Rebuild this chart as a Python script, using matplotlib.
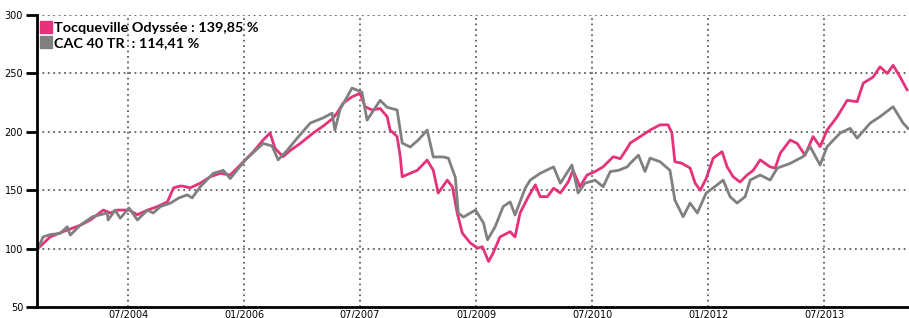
import numpy as np
import pandas as pd
import matplotlib
matplotlib.use('Agg')
import matplotlib.pyplot as plt
import matplotlib.dates as mdates
from matplotlib.lines import Line2D

# Tocqueville Odyssee (base 100)
dates_ody = ['2003-05-01', '2003-06-28', '2003-08-28', '2003-11-17', '2004-01-04', '2004-03-05',
             '2004-04-07', '2004-05-10', '2004-07-05', '2004-08-13', '2004-09-30', '2004-11-16',
             '2005-01-02', '2005-01-31', '2005-03-03', '2005-03-17', '2005-04-19', '2005-06-06',
             '2005-07-23', '2005-09-09', '2005-10-26', '2006-01-05', '2006-02-12', '2006-03-30',
             '2006-05-02', '2006-05-25', '2006-07-02', '2006-08-05', '2006-09-21', '2006-11-22',
             '2007-01-08', '2007-02-19', '2007-03-14', '2007-04-12', '2007-05-24', '2007-07-01',
             '2007-07-25', '2007-08-27', '2007-10-04', '2007-11-06', '2007-11-20', '2007-12-23',
             '2008-01-07', '2008-01-16', '2008-02-23', '2008-03-27', '2008-05-13', '2008-06-11',
             '2008-07-04', '2008-08-16', '2008-09-09', '2008-10-02', '2008-10-26', '2008-12-03',
             '2009-01-05', '2009-01-29', '2009-02-27', '2009-03-20', '2009-04-22', '2009-06-09',
             '2009-07-02', '2009-07-26', '2009-09-03', '2009-10-06', '2009-10-29', '2009-12-02',
             '2009-12-31', '2010-02-01', '2010-03-10', '2010-04-02', '2010-05-05', '2010-06-07',
             '2010-07-15', '2010-08-22', '2010-10-09', '2010-11-11', '2010-12-14', '2010-12-28',
             '2011-02-14', '2011-04-01', '2011-05-18', '2011-06-25', '2011-07-13', '2011-07-27',
             '2011-08-30', '2011-10-07', '2011-10-31', '2011-11-24', '2011-12-22', '2012-01-24',
             '2012-03-06', '2012-03-30', '2012-04-27', '2012-05-30', '2012-07-02', '2012-07-31',
             '2012-09-02', '2012-10-19', '2012-11-12', '2012-12-06', '2013-01-22', '2013-02-24',
             '2013-04-02', '2013-05-10', '2013-06-12', '2013-07-15', '2013-09-01', '2013-10-18',
             '2013-12-04', '2014-01-02', '2014-02-18', '2014-03-22', '2014-04-25', '2014-05-23',
             '2014-06-25', '2014-07-28']
vals_ody = [100, 110, 114.5, 120, 124.5, 133,
            130.5, 133, 133, 129, 133, 136,
            140, 152, 153.6, 153.5, 152, 156,
            161.5, 164.5, 163, 176, 183, 193,
            199, 186, 178.7, 184, 190, 199,
            205, 211, 216, 224.6, 230, 233,
            221.5, 218.7, 220, 213, 201.5, 196,
            178.7, 161.6, 164.5, 167, 175.8, 167,
            147.6, 158.6, 153, 130.5, 113.3, 104.8,
            100.5, 101.6, 89, 96, 110, 114.5,
            110, 130.5, 144.5, 154.6, 144.5, 144.5,
            151.7, 147.6, 157, 167, 153, 163,
            166, 170, 178.7, 177, 186, 190.4,
            196, 201.5, 206, 206, 199, 174.4,
            173, 169, 156, 150, 160, 177.5,
            183, 170, 161.6, 157, 163, 167,
            176, 170, 169, 181.8, 193, 190,
            180, 196, 187.3, 201.5, 213, 227,
            225.8, 241.7, 247, 255.7, 250, 257,
            247, 236]

# CAC 40 TR (base 100)
dates_cac = ['2003-05-01', '2003-05-26', '2003-06-28', '2003-08-14', '2003-09-17', '2003-10-01',
             '2003-11-17', '2004-01-14', '2004-03-24', '2004-03-28', '2004-04-30', '2004-05-24',
             '2004-07-05', '2004-08-13', '2004-09-30', '2004-10-27', '2004-11-30', '2005-01-17',
             '2005-02-24', '2005-04-05', '2005-04-29', '2005-06-06', '2005-08-07', '2005-09-23',
             '2005-10-26', '2006-01-05', '2006-03-30', '2006-05-11', '2006-06-09', '2006-07-21',
             '2006-09-07', '2006-11-08', '2007-01-08', '2007-02-19', '2007-03-04', '2007-03-28',
             '2007-05-24', '2007-07-10', '2007-08-03', '2007-10-04', '2007-11-06', '2007-12-23',
             '2008-01-16', '2008-02-23', '2008-04-01', '2008-05-13', '2008-06-11', '2008-07-27',
             '2008-08-21', '2008-09-23', '2008-10-07', '2008-10-31', '2008-12-03', '2008-12-27',
             '2009-02-03', '2009-02-22', '2009-03-30', '2009-05-07', '2009-06-09', '2009-07-02',
             '2009-08-19', '2009-09-12', '2009-10-29', '2009-12-31', '2010-02-01', '2010-03-28',
             '2010-04-26', '2010-05-28', '2010-07-15', '2010-08-22', '2010-09-25', '2010-11-02',
             '2010-12-14', '2010-12-28', '2011-02-05', '2011-03-08', '2011-04-01', '2011-05-18',
             '2011-07-04', '2011-07-27', '2011-09-04', '2011-10-07', '2011-11-10', '2011-12-22',
             '2012-02-12', '2012-03-11', '2012-04-13', '2012-05-16', '2012-06-23', '2012-07-17',
             '2012-09-02', '2012-10-19', '2012-11-22', '2013-01-22', '2013-03-23', '2013-04-26',
             '2013-06-12', '2013-07-15', '2013-09-15', '2013-11-01', '2013-12-04', '2014-02-04',
             '2014-03-22', '2014-05-23', '2014-07-09', '2014-08-01']
vals_cac = [100, 110, 112, 113, 118.7, 111.6,
            120, 127.3, 130.5, 124.5, 133, 126,
            134.7, 124.5, 133, 130.5, 136, 139,
            143.3, 146, 143.5, 153, 164.5, 167,
            160, 176, 190, 188, 176, 184,
            194.6, 207.5, 212, 216, 201.5, 219,
            237.5, 234, 210, 227, 221, 218.7,
            190.4, 187, 193, 201.5, 178.5, 178.5,
            177.5, 161, 130.5, 127, 130.5, 133,
            122, 107.5, 118.7, 136, 140, 128.8,
            151.7, 158.7, 164.5, 170, 156, 171.6,
            147.6, 156, 158.6, 153, 166, 167,
            170, 173, 180, 166, 177.5, 174.4,
            167, 141.6, 127.3, 139, 130.5, 147.6,
            154.6, 158.7, 144.5, 139, 144.5, 158.7,
            163, 158.7, 169, 173, 178.7, 187.3,
            171.6, 187.3, 199, 203, 194.6, 207.5,
            213, 221.5, 207.5, 203]

labels = ['Tocqueville Odyssée : 139,85 %', 'CAC 40 TR  : 114,41 %']
colors = ['#E5327B', '#808080']
yticks = [50, 100, 150, 200, 250, 300]
xticks = ['2004-07-01', '2006-01-01', '2007-07-01', '2009-01-01', '2010-07-01', '2012-01-01', '2013-07-01']

fig = plt.figure(figsize=(9.09, 3.18), dpi=100)
ax = fig.add_axes([0.0407, 0.0346, 0.9593, 0.918])

ax.plot(pd.to_datetime(dates_ody), vals_ody, color=colors[0], lw=2)
ax.plot(pd.to_datetime(dates_cac), vals_cac, color=colors[1], lw=2)

ax.set_xlim(pd.Timestamp('2003-04-27'), pd.Timestamp('2014-08-06'))
ax.set_ylim(50, 300)
ax.set_yticks(yticks)
ax.set_xticks(pd.to_datetime(xticks))
ax.xaxis.set_major_formatter(mdates.DateFormatter('%m/%Y'))
ax.grid(True, color='#606060', linestyle=(0, (1, 2)), linewidth=1.3)
ax.set_axisbelow(True)

for s in ['top', 'right']:
    ax.spines[s].set_visible(False)
ax.spines['left'].set_linewidth(2)
ax.spines['bottom'].set_linewidth(2)
ax.tick_params(axis='y', direction='out', length=8, width=2, labelsize=7, pad=2)
ax.tick_params(axis='x', length=0, labelsize=7, pad=2)

handles = [Line2D([], [], marker='s', color=c, linestyle='none', markersize=8.5) for c in colors]
leg = ax.legend(handles, labels, loc='upper left', bbox_to_anchor=(0.002, 0.985), frameon=False,
                handlelength=0.6, handletextpad=0.25, labelspacing=0.2, borderpad=0.1,
                borderaxespad=0.1, prop={'family': 'Lato', 'weight': 'bold', 'size': 10.4})

fig.savefig('out.png', dpi=100)
